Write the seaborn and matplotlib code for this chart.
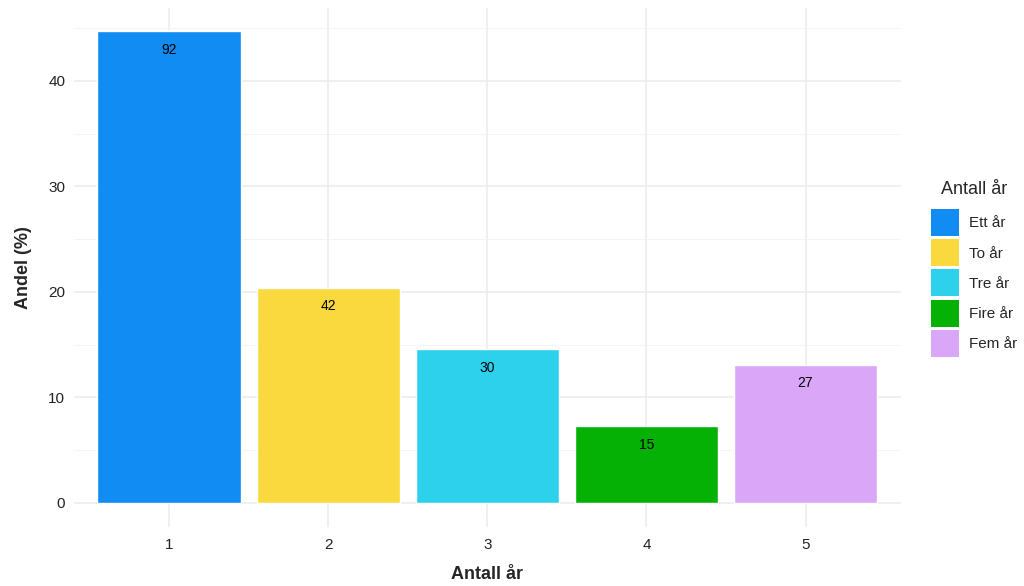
import pandas as pd
import matplotlib.pyplot as plt
from matplotlib.patches import Patch
import seaborn as sns

years = ['1', '2', '3', '4', '5']
groups = ['Ett år', 'To år', 'Tre år', 'Fire år', 'Fem år']
counts = [92, 42, 30, 15, 27]
andel = [44.7, 20.4, 14.6, 7.3, 13.1]
colors = ['#108CF2', '#F9D93D', '#2DD1EC', '#04B104', '#D9A6F8']

df = pd.DataFrame({'year': years, 'group': groups, 'andel': andel, 'n': counts})

sns.set_style('white')
plt.rcParams['font.family'] = ['Liberation Sans', 'DejaVu Sans']

fig = plt.figure(figsize=(10.24, 5.86), dpi=100)
ax = fig.add_axes([0.0719, 0.1015, 0.808, 0.8848])

sns.barplot(data=df, x='year', y='andel', hue='group', palette=colors,
            dodge=False, width=0.9, saturation=1, ax=ax, legend=False, zorder=3)

for i, (v, n) in enumerate(zip(andel, counts)):
    ax.text(i, v - 1.1, str(n), ha='center', va='top', fontsize=10, color='black', zorder=4)

ax.set_xlim(-0.6, 4.6)
ax.set_ylim(-2.23, 46.9)
ax.set_yticks([0, 10, 20, 30, 40])
ax.set_yticks([5, 15, 25, 35, 45], minor=True)
ax.grid(True, which='major', color='#EBEBEB', linewidth=1.1, zorder=0)
ax.grid(True, which='minor', axis='y', color='#F2F2F2', linewidth=0.6, zorder=0)
ax.set_axisbelow(True)
for s in ax.spines.values():
    s.set_visible(False)
ax.tick_params(axis='both', which='both', length=0, labelsize=11, colors='#222222', pad=6)
ax.tick_params(axis='x', pad=8)

ax.set_xlabel('Antall år', fontsize=13, fontweight='bold', labelpad=10)
ax.set_ylabel('Andel (%)', fontsize=13, fontweight='bold', labelpad=12)

handles = [Patch(facecolor=c, edgecolor='none') for c in colors]
leg = ax.legend(handles, groups, title='Antall år', loc='upper left',
                bbox_to_anchor=(931 / 1024, 1 - 181 / 586), bbox_transform=fig.transFigure,
                frameon=False, fontsize=11, title_fontsize=13,
                handlelength=1.8, handleheight=2.35, handletextpad=0.7,
                labelspacing=0.2, borderaxespad=0, borderpad=0)
leg._legend_box.sep = 8

fig.savefig('out.png', dpi=100)
